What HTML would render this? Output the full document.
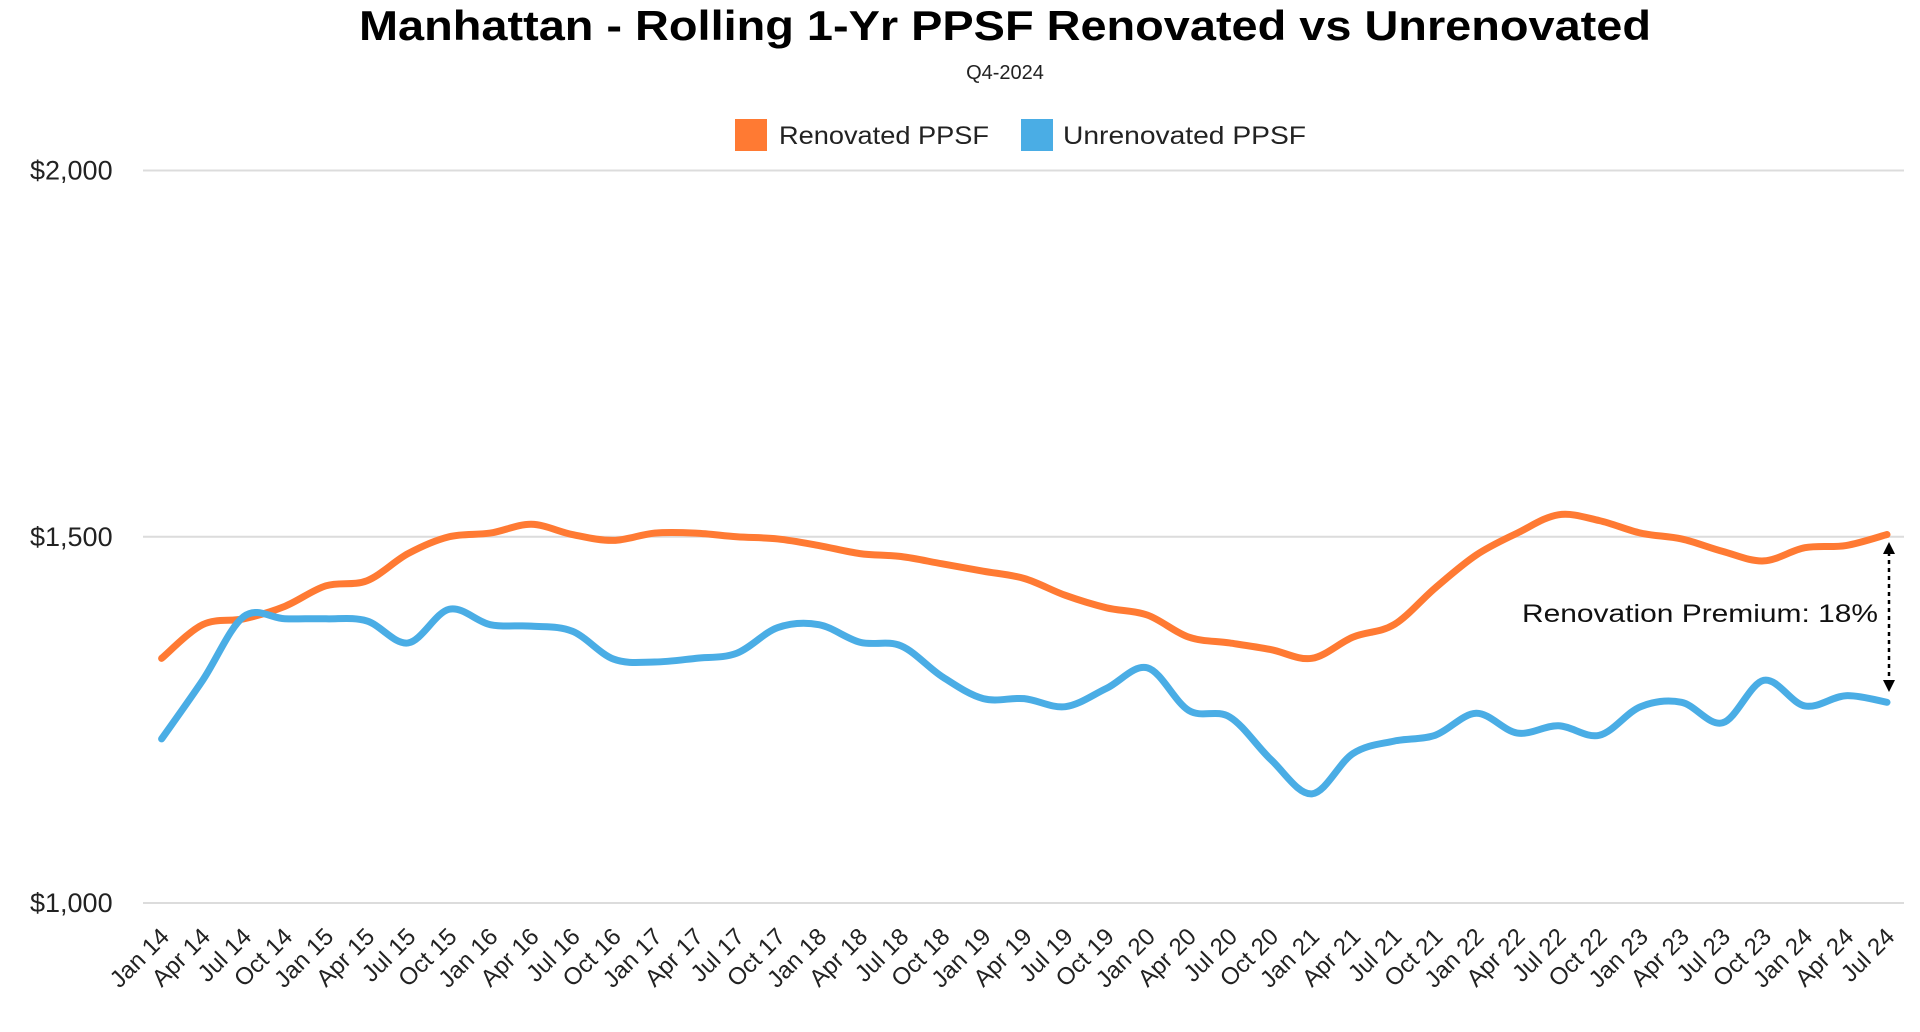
<!DOCTYPE html>
<html><head><meta charset="utf-8"><style>
html,body{margin:0;padding:0;background:#fff;}
svg{display:block;font-family:"Liberation Sans",sans-serif;}
</style></head><body>
<svg id="chart" width="1920" height="1032" viewBox="0 0 1920 1032">
<text x="1005" y="40" text-anchor="middle" font-size="42" font-weight="bold" fill="#000" textLength="1292" lengthAdjust="spacingAndGlyphs">Manhattan - Rolling 1-Yr PPSF Renovated vs Unrenovated</text>
<text x="1005" y="79" text-anchor="middle" font-size="20" fill="#222">Q4-2024</text>
<g>
<g><rect x="735" y="119" width="32" height="32" fill="#FF7A33"/><text x="779" y="144" font-size="25" fill="#222" textLength="210" lengthAdjust="spacingAndGlyphs">Renovated PPSF</text></g>
<g><rect x="1021" y="119" width="32" height="32" fill="#4AADE5"/><text x="1063" y="144" font-size="25" fill="#222" textLength="243" lengthAdjust="spacingAndGlyphs">Unrenovated PPSF</text></g>
</g>
<g id="grid"></g><g id="xaxis"></g><g id="series"></g>
<text x="1878" y="622" text-anchor="end" font-size="25" fill="#111" textLength="356" lengthAdjust="spacingAndGlyphs">Renovation Premium: 18%</text>
<g>
<line x1="1889" y1="552" x2="1889" y2="682" stroke="#000" stroke-width="2.5" stroke-dasharray="4,4"/>
<polygon points="1883,554 1895,554 1889,542" fill="#000"/>
<polygon points="1883,680 1895,680 1889,692" fill="#000"/>
</g>
</svg>
<script>
const categories=["Jan 14","Apr 14","Jul 14","Oct 14","Jan 15","Apr 15","Jul 15","Oct 15","Jan 16","Apr 16","Jul 16","Oct 16","Jan 17","Apr 17","Jul 17","Oct 17","Jan 18","Apr 18","Jul 18","Oct 18","Jan 19","Apr 19","Jul 19","Oct 19","Jan 20","Apr 20","Jul 20","Oct 20","Jan 21","Apr 21","Jul 21","Oct 21","Jan 22","Apr 22","Jul 22","Oct 22","Jan 23","Apr 23","Jul 23","Oct 23","Jan 24","Apr 24","Jul 24"];
const renovated=[1334,1380,1388,1405,1433,1440,1477,1500,1505,1517,1503,1495,1505,1505,1500,1497,1488,1477,1473,1463,1453,1443,1420,1403,1393,1363,1355,1346,1334,1363,1380,1430,1475,1505,1530,1522,1505,1497,1480,1467,1485,1488,1503];
const unrenovated=[1224,1304,1391,1388,1388,1385,1355,1401,1380,1378,1371,1333,1329,1334,1341,1376,1380,1356,1351,1309,1279,1279,1268,1293,1321,1263,1254,1196,1149,1204,1221,1229,1259,1232,1242,1229,1268,1274,1246,1304,1269,1283,1274];
const yTicks=[1000,1500,2000];
const yTickLabels=["$1,000","$1,500","$2,000"];
const NS="http://www.w3.org/2000/svg";
const x0=161.6,x1=1887,yBase=903,yPer=0.7325;
const xs=i=>x0+i*(x1-x0)/(categories.length-1);
const ys=v=>yBase-(v-1000)*yPer;
function mk(t,a,p){const e=document.createElementNS(NS,t);for(const k in a)e.setAttribute(k,a[k]);p.appendChild(e);return e;}
const grid=document.getElementById('grid');
yTicks.forEach((v,i)=>{
 const l=mk('line',{x1:143,x2:1904,y1:ys(v),y2:ys(v),stroke:'#dcdcdc','stroke-width':2},grid);
 
 
 const t=mk('text',{x:30,y:ys(v)+9,'font-size':27,fill:'#222'},grid);
 t.textContent=yTickLabels[i];
 
 
});
const xa=document.getElementById('xaxis');
categories.forEach((c,i)=>{
 const x=xs(i)+9,y=938;
 const t=mk('text',{x:x,y:y,'font-size':24,fill:'#222','text-anchor':'end',transform:`rotate(-45 ${x} ${y})`},xa);
 t.textContent=c;
 
 
});
function path(vals){
 const p=vals.map((v,i)=>[xs(i),ys(v)]);
 let d=`M${p[0][0]},${p[0][1]}`;
 for(let i=0;i<p.length-1;i++){
  const a=p[Math.max(0,i-1)],b=p[i],c=p[i+1],e=p[Math.min(p.length-1,i+2)];
  d+=` C${b[0]+(c[0]-a[0])/6},${b[1]+(c[1]-a[1])/6} ${c[0]-(e[0]-b[0])/6},${c[1]-(e[1]-b[1])/6} ${c[0]},${c[1]}`;
 }
 return d;
}
const s=document.getElementById('series');
const pr=mk('path',{d:path(renovated),fill:'none',stroke:'#FF7A33','stroke-width':7,'stroke-linecap':'round','stroke-linejoin':'round'},s);


const pu=mk('path',{d:path(unrenovated),fill:'none',stroke:'#4AADE5','stroke-width':7,'stroke-linecap':'round','stroke-linejoin':'round'},s);


</script>
</body></html>
